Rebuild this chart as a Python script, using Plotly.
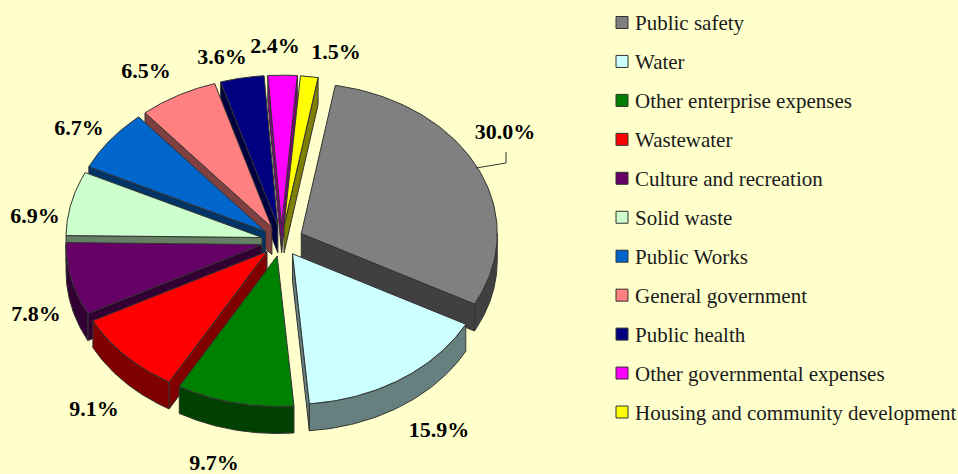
import numpy as np
import plotly.graph_objects as go

categories = ["Public safety", "Water", "Other enterprise expenses", "Wastewater",
              "Culture and recreation", "Solid waste", "Public Works", "General government",
              "Public health", "Other governmental expenses", "Housing and community development"]
shares = [30.0, 15.9, 9.7, 9.1, 7.8, 6.9, 6.7, 6.5, 3.6, 2.4, 1.5]
top_colors = ["#808080", "#CCFFFF", "#008000", "#FF0000", "#660066", "#CCFFCC",
              "#0066CC", "#FF8080", "#000080", "#FF00FF", "#FFFF00"]
side_colors = ["#404040", "#668080", "#004000", "#800000", "#330033", "#668066",
               "#003366", "#804040", "#000040", "#800080", "#808000"]
label_x = [505, 439, 214, 94, 36, 35, 79, 146, 222, 275, 336]
label_y = [133, 431, 464, 410, 315, 217, 129, 72, 58, 47, 53]
explode = [22.0, 20.0, 20.0, 20.0, 20.0, 20.0, 20.0, 20.0, 20.0, 20.0, 20.0]

BG = "#FFFFCC"
EDGE = "#333333"
CX, CY, RX, RY = 281.5, 241.0, 196.0, 150.5
DEPTH, START = 27.0, 10.0

fig = go.Figure()


def add_poly(xs, ys, fill, name):
    fig.add_trace(go.Scatter(x=xs, y=ys, mode="lines", fill="toself", fillcolor=fill,
                             line=dict(color=EDGE, width=1), hoverinfo="skip",
                             showlegend=False, name=name))


def rim(tx, ty, a):
    r = np.radians(a)
    return tx + RX * np.sin(r), ty - RY * np.cos(r)


def side_of(p, q, s):
    return (q[0] - p[0]) * (s[1] - p[1]) - (q[1] - p[1]) * (s[0] - p[0])


total = sum(shares)
slices = []
a0 = START
for i, v in enumerate(shares):
    a1 = a0 + 360.0 * v / total
    slices.append((i, a0, a1))
    a0 = a1

# back slices first
order = sorted(slices, key=lambda s: -np.cos(np.radians((s[1] + s[2]) / 2)))
for i, a0, a1 in order:
    mid = (a0 + a1) / 2
    r = np.radians(mid)
    tx = CX + explode[i] * np.sin(r)
    ty = CY - explode[i] * RY / RX * np.cos(r)
    name = categories[i]
    inner = rim(tx, ty, mid)
    # cut faces
    for a in (a0, a1):
        e = rim(tx, ty, a)
        p, q = (tx, ty), e
        if side_of(p, q, inner) * side_of(p, q, (e[0], e[1] + DEPTH)) < 0:
            add_poly([tx, e[0], e[0], tx, tx], [ty, e[1], e[1] + DEPTH, ty + DEPTH, ty],
                     side_colors[i], name)
    # outer wall: only the part of the rim facing the viewer
    if a1 > 90 and a0 < 270:
        th = np.linspace(max(a0, 90), min(a1, 270), 60)
        xs, ys = rim(tx, ty, th)
        add_poly(list(xs) + list(xs[::-1]) + [xs[0]],
                 list(ys) + list((ys + DEPTH)[::-1]) + [ys[0]], side_colors[i], name)
    # top face
    th = np.linspace(a0, a1, 80)
    xs, ys = rim(tx, ty, th)
    add_poly([tx] + list(xs) + [tx], [ty] + list(ys) + [ty], top_colors[i], name)

# leader line of the largest slice
fig.add_trace(go.Scatter(x=[476, 506, 506], y=[168, 163, 152], mode="lines",
                         line=dict(color=EDGE, width=1), hoverinfo="skip", showlegend=False))

# data labels
fig.add_trace(go.Scatter(x=label_x, y=label_y, mode="text",
                         text=[f"{v:.1f}%" for v in shares], textposition="middle center",
                         textfont=dict(family="Liberation Serif", size=22, color="#000000"),
                         hoverinfo="skip", showlegend=False, texttemplate="<b>%{text}</b>"))

# key
key_y = [22.5 + 38.95 * k for k in range(len(categories))]
fig.add_trace(go.Scatter(x=[622] * len(categories), y=key_y, mode="markers",
                         marker=dict(symbol="square", size=12, color=top_colors,
                                     line=dict(color=EDGE, width=1)),
                         hoverinfo="skip", showlegend=False))
fig.add_trace(go.Scatter(x=[635] * len(categories), y=[k + 2.5 for k in key_y], mode="text",
                         text=categories, textposition="middle right",
                         textfont=dict(family="Liberation Serif", size=21, color="#1a1a1a"),
                         hoverinfo="skip", showlegend=False))

fig.update_layout(width=958, height=474, margin=dict(l=0, r=0, t=0, b=0),
                  paper_bgcolor=BG, plot_bgcolor=BG, showlegend=False,
                  xaxis=dict(range=[0, 958], visible=False, fixedrange=True),
                  yaxis=dict(range=[474, 0], visible=False, fixedrange=True))
fig.write_html("out.html", config=dict(displayModeBar=False),
               post_script="document.body.style.margin='0';"
                           "document.documentElement.style.overflow='hidden';"
                           "document.body.style.background='#FFFFCC';")
